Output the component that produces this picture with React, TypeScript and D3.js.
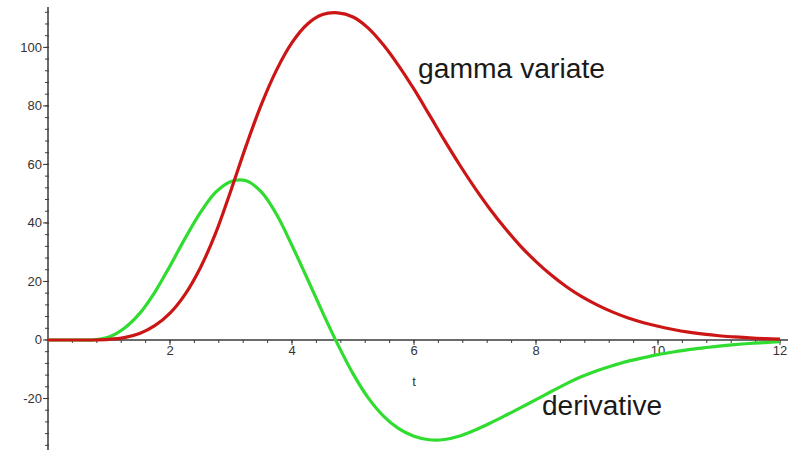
import React from "react";
import * as d3 from "d3";

// Sample times (step 0.25) and the two sampled curves
const times: number[] = [
  0, 0.25, 0.5, 0.75, 1, 1.25, 1.5, 1.75, 2, 2.25, 2.5, 2.75, 3, 3.25, 3.5, 3.75,
  4, 4.25, 4.5, 4.75, 5, 5.25, 5.5, 5.75, 6, 6.25, 6.5, 6.75, 7, 7.25, 7.5, 7.75,
  8, 8.25, 8.5, 8.75, 9, 9.25, 9.5, 9.75, 10, 10.25, 10.5, 10.75, 11, 11.25, 11.5, 11.75, 12,
];

const gammaVariate: number[] = [
  0, 0, 0, 0, 0.2, 0.8, 2.2, 4.9, 9.2, 15.7, 24.8, 36.6, 51.2, 66.5, 80.6, 92.4,
  101.6, 107.9, 111.2, 111.8, 110.4, 106.6, 100.8, 93.7, 85.7, 77.0, 68.2, 59.8, 51.9, 44.6, 38.0, 32.0,
  26.8, 22.2, 18.2, 14.8, 12.0, 9.6, 7.6, 6.0, 4.7, 3.6, 2.7, 2.0, 1.45, 1.05, 0.7, 0.45, 0.3,
];

const derivative: number[] = [
  0, 0, 0, 0.05, 1.0, 4.0, 9.0, 16.3, 25.3, 34.8, 43.6, 50.5, 54.2, 54.4, 50.5, 42.8,
  32.3, 21.0, 9.5, -1.5, -11.5, -19.8, -26.0, -30.3, -32.9, -34.1, -34.0, -32.8, -30.8, -28.4, -25.8, -23.1,
  -20.4, -17.6, -14.9, -12.5, -10.5, -8.8, -7.3, -6.1, -5.0, -4.1, -3.3, -2.7, -2.1, -1.6, -1.2, -0.9, -0.6,
];

const xTickValues: number[] = [2, 4, 6, 8, 10, 12];
const yTickValues: number[] = [-20, 0, 20, 40, 60, 80, 100];

const W = 797;
const H = 450;

const x = d3.scaleLinear().domain([0, 12]).range([48, 780]);
const y = d3.scaleLinear().domain([-37.6, 113.8]).range([450, 7]);

const line = d3
  .line<[number, number]>()
  .x((d) => x(d[0]))
  .y((d) => y(d[1]))
  .curve(d3.curveCatmullRom.alpha(0.5));

const gammaPath = line(times.map((t, i) => [t, gammaVariate[i]])) || "";
const derivPath = line(times.map((t, i) => [t, derivative[i]])) || "";

const xMinor = d3.range(0, 12.001, 0.4).filter((v) => v > 0.01);
const yMinor = d3.range(-36, 113, 4);

const axisColor = "#3a3a3a";
const tickFont = "'Liberation Sans', Arial, sans-serif";

export default function App() {
  const y0 = y(0);
  return (
    <svg
      width={W}
      height={H}
      viewBox={`0 0 ${W} ${H}`}
      style={{ position: "absolute", left: 0, top: 0, background: "#fff" }}
    >
      <rect x={0} y={0} width={W} height={H} fill="#fff" />

      {/* x axis */}
      <line x1={x(0)} x2={x(12) + 8} y1={y0} y2={y0} stroke={axisColor} strokeWidth={1.5} />
      {xMinor.map((v) => (
        <line key={`xm${v}`} x1={x(v)} x2={x(v)} y1={y0} y2={y0 + 3} stroke={axisColor} strokeWidth={1} />
      ))}
      {xTickValues.map((v) => (
        <g key={`xt${v}`}>
          <line x1={x(v)} x2={x(v)} y1={y0} y2={y0 + 5} stroke={axisColor} strokeWidth={1} />
          <text
            x={x(v)}
            y={y0 + 15}
            textAnchor="middle"
            fontFamily={tickFont}
            fontSize={13}
            fill="#333"
          >
            {v}
          </text>
        </g>
      ))}
      <text x={x(6)} y={y0 + 46} textAnchor="middle" fontFamily={tickFont} fontSize={13} fill="#333">
        t
      </text>

      {/* y axis */}
      <line x1={x(0)} x2={x(0)} y1={7} y2={H} stroke={axisColor} strokeWidth={1.5} />
      {yMinor.map((v) => (
        <line key={`ym${v}`} x1={x(0) - 3} x2={x(0) + 1} y1={y(v)} y2={y(v)} stroke={axisColor} strokeWidth={1} />
      ))}
      {yTickValues.map((v) => (
        <g key={`yt${v}`}>
          <line x1={x(0) - 5} x2={x(0) + 1} y1={y(v)} y2={y(v)} stroke={axisColor} strokeWidth={1} />
          <text
            x={x(0) - 6}
            y={y(v) + 4.5}
            textAnchor="end"
            fontFamily={tickFont}
            fontSize={13}
            fill="#333"
          >
            {v}
          </text>
        </g>
      ))}

      {/* curves */}
      <path d={derivPath} fill="none" stroke="#2fdc2f" strokeWidth={3.2} strokeLinejoin="round" />
      <path d={gammaPath} fill="none" stroke="#cc1616" strokeWidth={3.2} strokeLinejoin="round" />

      {/* curve labels */}
      <text x={418} y={78} fontFamily={tickFont} fontSize={27} fill="#1a1a1a" textLength={187} lengthAdjust="spacingAndGlyphs">
        gamma variate
      </text>
      <text x={542} y={415} fontFamily={tickFont} fontSize={27} fill="#1a1a1a" textLength={120} lengthAdjust="spacingAndGlyphs">
        derivative
      </text>
    </svg>
  );
}
